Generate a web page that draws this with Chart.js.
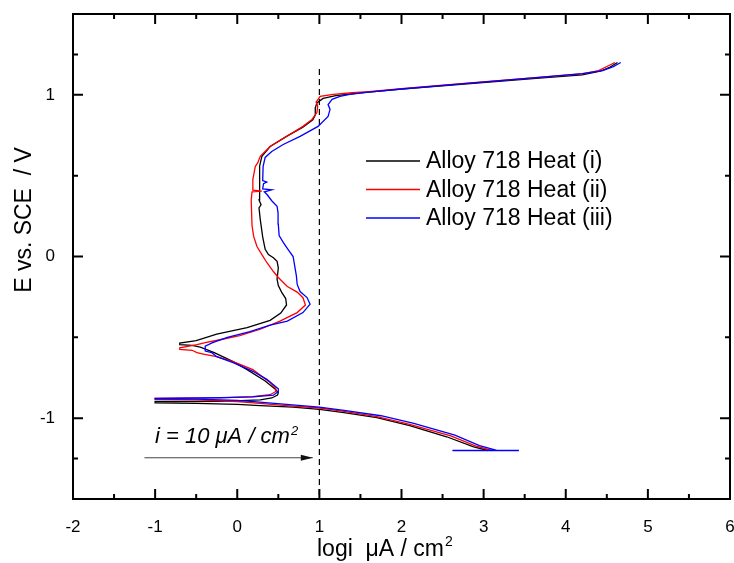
<!DOCTYPE html>
<html>
<head>
<meta charset="utf-8">
<title>Alloy 718 polarization curves</title>
<script src="https://cdn.jsdelivr.net/npm/chart.js@4.4.0/dist/chart.umd.min.js"></script>
<style>
  html, body { margin: 0; padding: 0; background: #fff; }
  #polChart { display: block; }
</style>
</head>
<body>
<canvas id="polChart" width="734" height="563"></canvas>
<script>
// log i (uA/cm2) and E (V vs SCE), ordered by E
const heat1LogI = [3.05, 2.87, 2.55, 2.1, 1.7, 1.3, 1.0, 0.68, 0.28, 0.0, -0.5, -1.0, -1.0, -0.2, 0.28, 0.42, 0.49, 0.5, 0.46, 0.34, 0.12, -0.05, -0.28, -0.45, -0.55, -0.7, -0.7, -0.5, -0.25, 0.12, 0.4, 0.53, 0.6, 0.59, 0.54, 0.5, 0.485, 0.5, 0.485, 0.44, 0.38, 0.34, 0.31, 0.28, 0.265, 0.29, 0.265, 0.27, 0.275, 0.3, 0.4, 0.6, 0.8, 0.92, 0.95, 0.95, 0.97, 1.045, 1.2, 1.5, 2.0, 2.8, 3.6, 4.2, 4.42, 4.54, 4.63];
const heat1E = [-1.2, -1.176, -1.115, -1.046, -0.997, -0.966, -0.945, -0.932, -0.922, -0.915, -0.908, -0.905, -0.897, -0.896, -0.887, -0.875, -0.857, -0.842, -0.82, -0.77, -0.7, -0.65, -0.595, -0.56, -0.55, -0.545, -0.535, -0.52, -0.48, -0.44, -0.395, -0.35, -0.3, -0.26, -0.22, -0.18, -0.14, -0.07, -0.03, -0.008, 0.012, 0.045, 0.12, 0.23, 0.3, 0.32, 0.35, 0.45, 0.56, 0.62, 0.68, 0.743, 0.8, 0.845, 0.875, 0.92, 0.95, 0.978, 0.995, 1.012, 1.035, 1.068, 1.1, 1.124, 1.146, 1.172, 1.2];

const heat2LogI = [3.1, 2.9, 2.6, 2.1, 1.7, 1.3, 1.0, 0.6, 0.2, 0.0, -0.5, -1.0, -1.0, -0.2, 0.19, 0.4, 0.47, 0.47, 0.4, 0.19, -0.05, -0.25, -0.4, -0.49, -0.55, -0.7, -0.7, -0.49, -0.39, -0.21, 0.03, 0.28, 0.52, 0.73, 0.83, 0.8, 0.73, 0.61, 0.5, 0.44, 0.36, 0.3, 0.24, 0.2, 0.18, 0.17, 0.18, 0.3, 0.19, 0.19, 0.22, 0.25, 0.28, 0.4, 0.61, 0.8, 0.91, 0.97, 0.98, 0.96, 1.01, 1.17, 1.4, 1.6, 2.0, 2.8, 3.6, 4.2, 4.4, 4.5, 4.6];
const heat2E = [-1.2, -1.172, -1.11, -1.038, -0.99, -0.958, -0.937, -0.922, -0.905, -0.897, -0.887, -0.884, -0.878, -0.874, -0.867, -0.855, -0.835, -0.815, -0.78, -0.7, -0.65, -0.62, -0.605, -0.595, -0.58, -0.575, -0.565, -0.545, -0.533, -0.515, -0.49, -0.45, -0.4, -0.347, -0.3, -0.255, -0.22, -0.186, -0.13, -0.093, -0.037, 0.012, 0.062, 0.124, 0.19, 0.35, 0.4, 0.405, 0.41, 0.477, 0.557, 0.58, 0.62, 0.68, 0.745, 0.805, 0.848, 0.89, 0.93, 0.955, 0.99, 1.003, 1.013, 1.02, 1.038, 1.072, 1.105, 1.13, 1.15, 1.175, 1.2];

const heat3LogI = [3.43, 2.62, 3.15, 2.95, 2.65, 2.15, 1.75, 1.3, 1.0, 0.6, 0.2, 0.0, -0.5, -1.0, -1.0, -0.2, 0.19, 0.44, 0.5, 0.5, 0.36, 0.19, -0.05, -0.25, -0.31, -0.39, -0.39, -0.3, -0.12, 0.155, 0.4, 0.61, 0.8, 0.887, 0.85, 0.765, 0.73, 0.72, 0.7, 0.68, 0.62, 0.56, 0.51, 0.5, 0.497, 0.485, 0.42, 0.36, 0.33, 0.42, 0.31, 0.32, 0.36, 0.31, 0.315, 0.34, 0.42, 0.56, 0.765, 0.984, 1.106, 1.13, 1.106, 1.155, 1.25, 1.37, 1.6, 2.0, 2.8, 3.6, 4.2, 4.45, 4.58, 4.67];
const heat3E = [-1.2, -1.2, -1.198, -1.17, -1.105, -1.032, -0.985, -0.952, -0.932, -0.915, -0.898, -0.89, -0.882, -0.88, -0.877, -0.873, -0.868, -0.858, -0.835, -0.818, -0.76, -0.71, -0.656, -0.62, -0.595, -0.585, -0.555, -0.533, -0.5, -0.464, -0.425, -0.4, -0.347, -0.295, -0.254, -0.217, -0.173, -0.12, -0.06, 0.0, 0.043, 0.087, 0.13, 0.2, 0.27, 0.31, 0.345, 0.385, 0.4, 0.412, 0.418, 0.45, 0.46, 0.47, 0.557, 0.613, 0.65, 0.693, 0.743, 0.805, 0.867, 0.91, 0.94, 0.972, 0.99, 1.003, 1.017, 1.036, 1.071, 1.105, 1.131, 1.15, 1.175, 1.2];

const seriesNames = ['Alloy 718 Heat (i)', 'Alloy 718 Heat (ii)', 'Alloy 718 Heat (iii)'];
const xTicks = [-2, -1, 0, 1, 2, 3, 4, 5, 6];
const yTicks = [-1, 0, 1];

// i = 10 uA/cm2 marker and arrow
const refLineLogI = [1, 1];
const refLineE = [1.16, -1.5];
const arrowLogI = [-1.13, 0.92];
const arrowE = [-1.245, -1.245];

const seriesColors = ['#000000', '#ff0000', '#0000ff'];
const fontFamily = '"Liberation Sans", Arial, sans-serif';

function toPoints(xs, ys) {
    return xs.map(function (x, i) { return { x: x, y: ys[i] }; });
}

function curve(label, xs, ys, color, order) {
    return {
        label: label,
        data: toPoints(xs, ys),
        showLine: true,
        borderColor: color,
        backgroundColor: color,
        borderWidth: 1.3,
        pointRadius: 0,
        tension: 0,
        order: order
    };
}

const notesPlugin = {
    id: 'frameAndNotes',
    afterDraw: function (chart) {
        const ctx = chart.ctx;
        const a = chart.chartArea;
        const xs = chart.scales.x;
        const ys = chart.scales.y;
        ctx.save();

        // frame
        ctx.strokeStyle = '#000';
        ctx.lineWidth = 2;
        ctx.strokeRect(a.left, a.top, a.right - a.left, a.bottom - a.top);

        // inward ticks on all four sides, minor ones halfway
        ctx.beginPath();
        xTicks.forEach(function (v, i) {
            const px = xs.getPixelForValue(v);
            ctx.moveTo(px, a.bottom); ctx.lineTo(px, a.bottom - 10);
            ctx.moveTo(px, a.top); ctx.lineTo(px, a.top + 10);
            if (i < xTicks.length - 1) {
                const mx = xs.getPixelForValue((v + xTicks[i + 1]) / 2);
                ctx.moveTo(mx, a.bottom); ctx.lineTo(mx, a.bottom - 5);
                ctx.moveTo(mx, a.top); ctx.lineTo(mx, a.top + 5);
            }
        });
        const yAll = [ys.min].concat(yTicks, [ys.max]);
        yAll.forEach(function (v, i) {
            const py = ys.getPixelForValue(v);
            if (yTicks.indexOf(v) >= 0) {
                ctx.moveTo(a.left, py); ctx.lineTo(a.left + 10, py);
                ctx.moveTo(a.right, py); ctx.lineTo(a.right - 10, py);
            }
            if (i < yAll.length - 1) {
                const my = ys.getPixelForValue((v + yAll[i + 1]) / 2);
                ctx.moveTo(a.left, my); ctx.lineTo(a.left + 5, my);
                ctx.moveTo(a.right, my); ctx.lineTo(a.right - 5, my);
            }
        });
        ctx.stroke();

        // arrow head
        const tipX = xs.getPixelForValue(arrowLogI[1]);
        const tipY = ys.getPixelForValue(arrowE[1]);
        ctx.fillStyle = '#111';
        ctx.beginPath();
        ctx.moveTo(tipX, tipY);
        ctx.lineTo(tipX - 12, tipY - 3);
        ctx.lineTo(tipX - 12, tipY + 3);
        ctx.closePath();
        ctx.fill();

        // annotation
        ctx.fillStyle = '#000';
        ctx.textBaseline = 'alphabetic';
        ctx.textAlign = 'left';
        ctx.font = 'italic 22px ' + fontFamily;
        const note = 'i = 10 \u03BCA / cm';
        ctx.fillText(note, 155, 443);
        const noteW = ctx.measureText(note).width;
        ctx.font = 'italic 13px ' + fontFamily;
        ctx.fillText('2', 155 + noteW + 1, 435);

        // legend
        ctx.font = '23px ' + fontFamily;
        ctx.textBaseline = 'middle';
        ctx.lineWidth = 1.5;
        seriesNames.forEach(function (name, i) {
            const y = 161 + i * 28.5;
            ctx.strokeStyle = seriesColors[i];
            ctx.beginPath();
            ctx.moveTo(366, y);
            ctx.lineTo(420, y);
            ctx.stroke();
            ctx.fillText(name, 426, y + 1);
        });

        // axis titles
        ctx.textBaseline = 'alphabetic';
        ctx.font = '23px ' + fontFamily;
        const xTitle = 'logi  \u03BCA / cm';
        ctx.fillText(xTitle, 317, 556);
        const xTitleW = ctx.measureText(xTitle).width;
        ctx.font = '14px ' + fontFamily;
        ctx.fillText('2', 317 + xTitleW + 1, 546);

        ctx.translate(31, 220);
        ctx.rotate(-Math.PI / 2);
        ctx.textAlign = 'center';
        ctx.font = '23px ' + fontFamily;
        ctx.fillText('E vs. SCE  / V', 0, 0);

        ctx.restore();
    }
};

const ctx = document.getElementById('polChart').getContext('2d');
const chart = new Chart(ctx, {
    type: 'scatter',
    data: {
        datasets: [
            curve(seriesNames[0], heat1LogI, heat1E, seriesColors[0], 3),
            curve(seriesNames[1], heat2LogI, heat2E, seriesColors[1], 2),
            curve(seriesNames[2], heat3LogI, heat3E, seriesColors[2], 1),
            {
                label: 'i = 10',
                data: toPoints(refLineLogI, refLineE),
                showLine: true,
                borderColor: '#000',
                borderWidth: 1.2,
                borderDash: [6, 4],
                pointRadius: 0,
                order: 4
            },
            {
                label: 'arrow',
                data: toPoints(arrowLogI, arrowE),
                showLine: true,
                borderColor: '#444',
                borderWidth: 1,
                pointRadius: 0,
                order: 5
            }
        ]
    },
    options: {
        responsive: false,
        animation: false,
        events: [],
        layout: { padding: { top: 14, right: 4, left: 0, bottom: 0 } },
        plugins: {
            legend: { display: false },
            tooltip: { enabled: false }
        },
        scales: {
            x: {
                type: 'linear',
                min: -2,
                max: 6,
                grid: { display: false },
                border: { display: false },
                ticks: { color: '#000', padding: 10, maxRotation: 0, font: { family: fontFamily, size: 17 } },
                afterBuildTicks: function (s) { s.ticks = xTicks.map(function (v) { return { value: v }; }); },
                afterFit: function (s) { s.height = 64; s.paddingLeft = 0; s.paddingRight = 0; }
            },
            y: {
                type: 'linear',
                min: -1.5,
                max: 1.5,
                grid: { display: false },
                border: { display: false },
                ticks: { color: '#000', padding: 10, font: { family: fontFamily, size: 17 } },
                afterBuildTicks: function (s) { s.ticks = yTicks.map(function (v) { return { value: v }; }); },
                afterFit: function (s) { s.width = 73; s.paddingTop = 0; s.paddingBottom = 0; }
            }
        }
    },
    plugins: [notesPlugin]
});
</script>
</body>
</html>
